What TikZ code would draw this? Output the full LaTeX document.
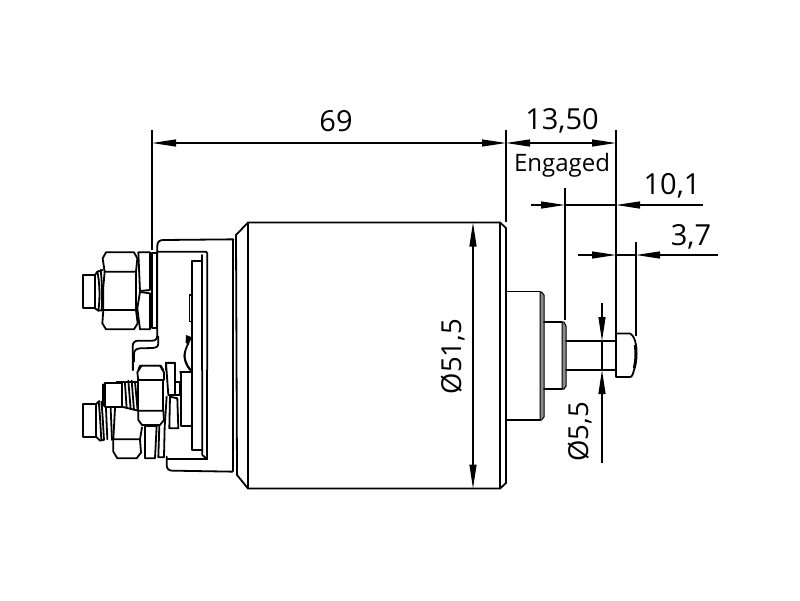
\documentclass[tikz,border=0pt]{standalone}
\usepackage{fontspec}
\setmainfont{Open Sans}
\usetikzlibrary{arrows.meta}
\tikzset{
  part/.style={draw=black,line width=1.8pt,line join=round,line cap=round},
  thin part/.style={draw=black,line width=1.2pt,line join=round},
  band/.style={fill=black!45,draw=black,line width=1pt},
  extline/.style={draw=black,line width=1.3pt},
  dimline/.style={draw=black,line width=1.2pt},
  dimtip/.style={-{Triangle[length=24pt,width=7pt]}},
  dimtiptwo/.style={{Triangle[length=24pt,width=7pt]}-{Triangle[length=24pt,width=7pt]}},
  bigdim/.style={inner sep=0pt,font=\fontsize{29}{29}\selectfont},
  sidedim/.style={inner sep=0pt,font=\fontsize{27.5}{27.5}\selectfont},
  smalldim/.style={inner sep=0pt,font=\fontsize{24}{24}\selectfont}
}
\begin{document}
\begin{tikzpicture}[x=1pt,y=-1pt]
\useasboundingbox[fill=white] (0,0) rectangle (800,600);
% --- main body
\draw[part] (236,235) -- (248,222.5) -- (500,222.5) -- (506,228) -- (506,483) -- (500,488.5) -- (248,488.5) -- (237,475) -- cycle;
\draw[part] (233,239.5) -- (233,471);
\draw[part] (248,222.5) -- (248,488.5);
\draw[part] (500,222.5) -- (500,488.5);
% boss
\draw[band] (540,292) -- (541.5,292) -- (544,295) -- (544,417) -- (541.5,420) -- (540,420) -- cycle;
\draw[part] (506,291.5) -- (540,291.5);
\draw[part] (506,420) -- (540,420);
% step
\draw[band] (562,322) -- (564,322) -- (566,326) -- (566,386) -- (564,389) -- (562,389) -- cycle;
\draw[part] (544,322) -- (562,322);
\draw[part] (544,389) -- (562,389);
% pin
\draw[part] (566,341) -- (616,341);
\draw[part] (566,370) -- (616,370);
\draw[part] (616,333.5) -- (630,333.5) .. controls (633,335) and (635,339) .. (636,345) .. controls (637,352) and (637,362) .. (634,370) .. controls (633,374) and (632,377) .. (630,377) -- (616,377) -- cycle;
\draw[line width=2.4pt] (635,345) .. controls (636,352) and (636,360) .. (634,368);
% --- left end, upper terminal (zoom coordinates)
\begin{scope}[shift={(60,220)},x=0.3333pt,y=-0.3333pt]
\draw[part] (520,58) -- (310,60) .. controls (298,60) and (292,66) .. (292,78) -- (292,100);
\draw[part] (292,95) -- (438,95) -- (442,100) -- (442,450);
\draw[part] (427,105) -- (427,450);
\draw[part] (427,122) -- (395,122) -- (395,450);
\draw[thin part] (388,225) -- (398,225) -- (398,305) -- (388,305) -- cycle;
\draw[part] (292,100) -- (292,345) .. controls (292,355) and (288,362) .. (278,362) -- (235,362) .. controls (225,362) and (218,368) .. (218,378) -- (218,450);
\draw[part] (295,350) -- (295,370) .. controls (295,380) and (288,384) .. (280,384) -- (240,385) .. controls (228,386) and (222,392) .. (222,402) -- (222,425);
\fill (378,345) -- (396,352) -- (385,375) -- (377,368) -- cycle;
\draw[part] (385,370) .. controls (370,400) and (368,420) .. (390,450);
\draw[part] (318,450) -- (318,430) -- (345,430) -- (345,450);
\draw[part] (235,450) -- (240,437) -- (302,437) -- (310,450);
% nut
\draw[part] (128,115) -- (138,97) -- (222,97) -- (232,115) -- (228,155) -- (134,155) -- cycle;
\draw[part] (134,155) -- (130,200) -- (130,270) -- (228,270) -- (228,155);
\draw[part] (130,270) -- (127,310) -- (138,328) -- (222,328) -- (233,310) -- (228,270);
% washers
\draw[part] (235,97) -- (270,97) -- (270,210) -- (240,213) -- cycle;
\draw[part] (240,216) -- (270,220) -- (270,328) -- (240,328) -- (232,265) -- cycle;
\draw[part] (276,100) -- (292,100) -- (292,325) -- (276,325) -- cycle;
% stud
\draw[part] (68,165) -- (105,165) -- (105,265) -- (68,265) -- cycle;
\draw[part] (105,165) -- (112,155) -- (128,150) (105,265) -- (115,272) -- (130,270);
\draw[part] (112,155) .. controls (120,190) and (120,240) .. (115,272);
\draw[part] (122,150) .. controls (127,190) and (127,240) .. (125,272);
\end{scope}
% --- left end, lower terminal (zoom coordinates)
\begin{scope}[shift={(60,340)},x=0.3333pt,y=-0.3333pt]
\draw[part] (442,90) -- (442,358);
\draw[part] (427,90) -- (427,345) -- (442,358);
\draw[part] (395,90) -- (395,330) -- (427,330);
\draw[part] (320,358) -- (442,358);
\draw[part] (320,350) -- (320,375) .. controls (320,386) and (326,392) .. (337,392) -- (518,395);
\draw[part] (218,90) -- (218,70);
\draw[part] (360,95) -- (395,95);
\draw[part] (363,95) -- (363,258) -- (395,258);
\draw[part] (392,90) .. controls (378,75) and (370,50) .. (375,35);
% stud and threads
\draw[part] (68,192) -- (108,192) -- (108,290) -- (68,290) -- cycle;
\draw[part] (108,192) -- (118,183) (108,290) -- (120,302) -- (130,300);
\draw[part] (116,185) .. controls (120,220) and (122,270) .. (124,300);
\draw[part] (124,185) .. controls (128,220) and (130,270) .. (132,300);
\draw[part] (138,205) -- (142,298);
\draw[part] (152,205) -- (156,300);
% threaded sleeve
\draw[part] (135,130) -- (185,130) -- (185,200) -- (135,200) -- cycle;
\draw[part] (129,133) -- (129,198);
\draw[part] (170,125) -- (235,125);
\draw[part] (185,200) -- (235,212);
\draw[part] (195,130) -- (200,205) (205,122) -- (212,208) (215,122) -- (222,210) (225,125) -- (233,212);
% lower nut
\draw[part] (165,205) -- (160,298) -- (240,298) -- (246,262);
\draw[part] (160,298) -- (160,335) -- (172,355) -- (230,355) -- (243,338) -- (240,298);
% upper nut
\draw[fill=white,part] (232,97) -- (245,77) -- (300,77) -- (312,97) -- (312,120) -- (235,120) -- cycle;
\draw[fill=white,part] (235,120) -- (235,212) -- (310,212) -- (310,120) -- cycle;
\draw[fill=white,part] (235,212) -- (235,240) -- (246,255) -- (300,255) -- (312,240) -- (310,212) -- cycle;
% washers
\draw[part] (318,68) -- (345,68) -- (345,165) -- (325,165) -- cycle;
\draw[part] (345,125) -- (360,125) -- (360,165) -- (345,165);
\draw[part] (330,170) -- (352,175) -- (355,265) -- (328,265) -- cycle;
\draw[part] (320,170) -- (314,262) -- (312,352) -- (295,352) -- (298,258);
\draw[part] (255,258) -- (290,258) -- (285,355) -- (255,355) -- cycle;
\end{scope}
% --- named anchors for dimension ends
\coordinate (d69a) at (152,143);
\coordinate (d69b) at (506,143);
\coordinate (d135b) at (616,143);
\coordinate (a101) at (565,205);
\coordinate (b101) at (616,205);
\coordinate (o101) at (531,205);
\coordinate (e101) at (703,205);
\coordinate (a37) at (616,255);
\coordinate (b37) at (636,255);
\coordinate (o37) at (578,255);
\coordinate (e37) at (718,255);
\coordinate (dt) at (473,222.5);
\coordinate (db) at (473,488.5);
\coordinate (pt) at (602,341);
\coordinate (pb) at (602,370);
\coordinate (pto) at (602,303);
\coordinate (pbo) at (602,463);
% --- extension lines
\draw[extline] (152,130) -- (152,250);
\draw[extline] (506,130) -- (506,222);
\draw[extline] (616,130) -- (616,333);
\draw[extline] (565,188) -- (565,320);
\draw[extline] (636,242) -- (636,336);
% --- dimensions
\draw[dimline,dimtiptwo] (d69a) -- (d69b);
\draw[dimline,dimtiptwo] (d69b) -- (d135b);
\draw[dimline,dimtip] (o101) -- (a101);
\draw[dimline,dimtip] (e101) -- (b101);
\draw[dimline] (a101) -- (b101);
\draw[dimline,dimtip] (o37) -- (a37);
\draw[dimline,dimtip] (e37) -- (b37);
\draw[dimline] (a37) -- (b37);
\draw[dimline,dimtiptwo] (dt) -- (db);
\draw[dimline,dimtip] (pto) -- (pt);
\draw[dimline,dimtip] (pbo) -- (pb);
\draw[dimline] (pt) -- (pb);
% --- labels
\node[bigdim] (t69) at (336,121) {69};
\node[bigdim] (t135) at (562,121) {13,50};
\node[smalldim] (teng) at (562,165) {Engaged};
\node[bigdim] (t101) at (672,186) {10,1};
\node[bigdim] (t37) at (691,237) {3,7};
\node[sidedim,rotate=90] (tphi) at (453,356.5) {Ø51,5};
\node[sidedim,rotate=90] (tpin) at (580,432) {Ø5,5};
\end{tikzpicture}
\end{document}
